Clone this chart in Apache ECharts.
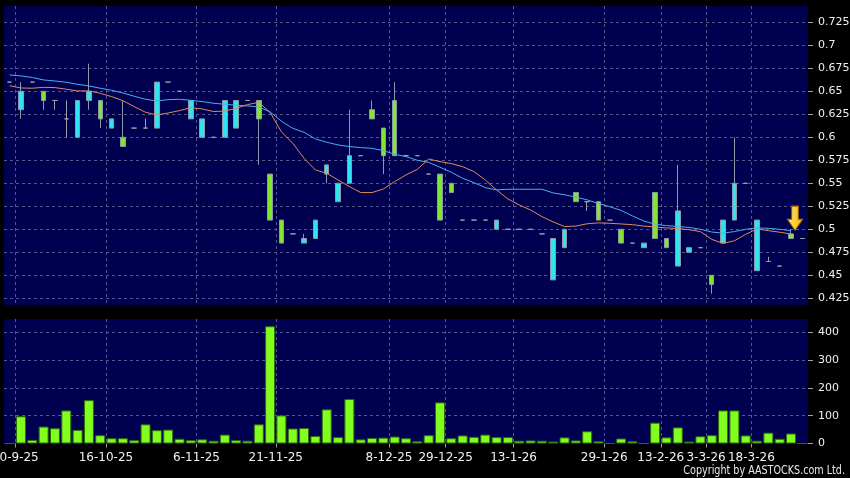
<!DOCTYPE html>
<html><head><meta charset="utf-8">
<script src="https://cdn.jsdelivr.net/npm/echarts@6/dist/echarts.min.js"></script>
<style>html,body{margin:0;padding:0;background:#000;}#c{width:850px;height:478px;}</style>
</head><body><div id="c"></div>
<script>
// slot index 0..70 (one per trading session shown); date labels sit on the left edge of their slot
const labelSlots = [1, 9, 17, 24, 34, 39, 45, 53, 58, 62, 66];
const labelTexts = ['30-9-25','16-10-25','6-11-25','21-11-25','8-12-25','29-12-25','13-1-26','29-1-26','13-2-26','3-3-26','18-3-26'];

const openP = [0.66,0.63,0.66,0.65,0.64,0.62,0.60,0.64,0.64,0.61,
  0.60,0.61,0.61,0.61,0.66,0.65,0.62,0.60,0.60,0.60,
  0.61,0.64,0.64,0.56,0.51,0.495,0.485,0.49,0.56,0.53,
  0.55,0.58,0.63,0.61,0.64,0.58,0.58,0.56,0.56,0.55,
  0.51,0.51,0.51,0.50,0.50,0.50,0.50,0.495,0.445,0.48,
  0.54,0.53,0.53,0.51,0.50,0.485,0.48,0.54,0.49,0.46,
  0.475,0.48,0.45,0.485,0.51,0.55,0.455,0.465,0.46,0.495,0.49];
const closeP = [0.66,0.65,0.66,0.64,0.64,0.62,0.64,0.65,0.62,0.62,
  0.59,0.61,0.61,0.66,0.66,0.65,0.64,0.62,0.60,0.64,
  0.64,0.64,0.62,0.51,0.485,0.495,0.49,0.51,0.57,0.55,
  0.58,0.58,0.62,0.58,0.58,0.58,0.58,0.56,0.51,0.54,
  0.51,0.51,0.51,0.51,0.50,0.50,0.50,0.495,0.49,0.50,
  0.53,0.53,0.51,0.51,0.485,0.485,0.485,0.49,0.48,0.52,
  0.48,0.48,0.44,0.51,0.55,0.55,0.51,0.465,0.46,0.49,0.49];
const lowP = [0.66,0.62,0.66,0.63,0.63,0.60,0.60,0.63,0.61,0.61,
  0.59,0.61,0.61,0.61,0.66,0.65,0.62,0.60,0.60,0.60,
  0.61,0.64,0.57,0.51,0.485,0.495,0.485,0.49,0.55,0.53,
  0.55,0.58,0.62,0.56,0.58,0.58,0.58,0.56,0.51,0.54,
  0.51,0.51,0.51,0.50,0.50,0.50,0.50,0.495,0.445,0.48,
  0.53,0.52,0.51,0.51,0.485,0.485,0.48,0.49,0.48,0.46,
  0.475,0.48,0.43,0.485,0.51,0.55,0.455,0.465,0.46,0.49,0.49];
const highP = [0.66,0.66,0.66,0.65,0.64,0.64,0.64,0.68,0.64,0.62,
  0.64,0.61,0.62,0.66,0.66,0.65,0.64,0.62,0.60,0.64,
  0.64,0.64,0.64,0.56,0.51,0.495,0.495,0.51,0.57,0.55,
  0.63,0.58,0.64,0.61,0.66,0.58,0.58,0.56,0.56,0.55,
  0.51,0.51,0.51,0.51,0.50,0.50,0.50,0.495,0.49,0.50,
  0.54,0.53,0.53,0.51,0.50,0.485,0.485,0.54,0.49,0.57,
  0.48,0.48,0.45,0.51,0.60,0.55,0.51,0.47,0.46,0.50,0.49];
const volume = [0,98,13,61,55,119,49,156,30,19,
  19,12,69,48,50,17,12,15,10,32,
  12,10,69,422,101,54,56,27,123,23,
  160,15,20,21,25,19,8,30,148,19,
  29,24,32,23,23,10,11,10,7,22,
  11,44,8,0,18,8,0,75,22,58,
  7,26,30,119,119,29,10,39,17,36,0];
const maShort = [0.656,0.6536,0.6533,0.6543,0.654,0.6522,0.6504,0.6504,0.6478,0.6442,
  0.6398,0.6333,0.6272,0.6243,0.6264,0.629,0.6322,0.6308,0.628,0.6285,
  0.6315,0.6355,0.638,0.627,0.606,0.5935,0.5772,0.5645,0.5609,0.5536,
  0.5464,0.5399,0.5399,0.5438,0.5518,0.5591,0.5652,0.5764,0.5735,0.5714,
  0.5681,0.5627,0.5536,0.5428,0.533,0.5264,0.521,0.5138,0.508,0.503,
  0.5035,0.506,0.507,0.5065,0.5058,0.505,0.5035,0.5025,0.5015,0.5008,
  0.4995,0.4975,0.489,0.4848,0.4875,0.4945,0.5004,0.4985,0.4968,0.4948,null];
const maLong = [0.6677,0.6667,0.665,0.6623,0.6612,0.6598,0.6576,0.6558,0.6533,0.6511,
  0.6482,0.6446,0.6413,0.6395,0.6409,0.6413,0.6402,0.6388,0.637,0.6359,
  0.6348,0.6341,0.633,0.6275,0.6175,0.6098,0.6054,0.5982,0.5946,0.5917,
  0.5899,0.5888,0.588,0.5855,0.5815,0.579,0.575,0.5728,0.5674,0.562,
  0.5554,0.5507,0.5453,0.5428,0.5435,0.5435,0.5435,0.5435,0.5395,0.5375,
  0.535,0.532,0.528,0.5245,0.5205,0.5145,0.509,0.5055,0.504,0.503,
  0.502,0.500,0.497,0.4958,0.4975,0.5,0.5015,0.501,0.5,0.4985,null];
const arrowSlot = 69, arrowPrice = 0.512;

// categories for data (one per slot) and for slot edges (one more than slots)
const categories = openP.map((_, i) => 's' + i);
const edges = [];
for (let i = 0; i <= openP.length; i++) {
  const j = labelSlots.indexOf(i);
  edges.push(j >= 0 ? labelTexts[j] : 'e' + i);
}
const isLabel = (i) => labelSlots.indexOf(i) >= 0;
const candleData = openP.map((o, i) => [o, closeP[i], lowP[i], highP[i]]);

const FONT = "'DejaVu Sans', sans-serif";
const gridLine = { color: '#56568f', width: 1, type: [3, 3] };
const hiddenCat = (g) => ({ type: 'category', gridIndex: g, data: categories, boundaryGap: true,
  axisLine: { show: false }, axisTick: { show: false }, axisLabel: { show: false }, splitLine: { show: false } });
const chart = echarts.init(document.getElementById('c'), null, { renderer: 'canvas' });
chart.setOption({
  animation: false,
  backgroundColor: '#000000',
  grid: [
    { left: 4, right: 42, top: 6, height: 299, show: true, backgroundColor: '#000050', borderWidth: 0,
      containLabel: false, outerBoundsMode: 'none' },
    { left: 4, right: 42, top: 319, height: 124.5, show: true, backgroundColor: '#000050', borderWidth: 0,
      containLabel: false, outerBoundsMode: 'none' }
  ],
  xAxis: [
    hiddenCat(0),
    hiddenCat(1),
    { type: 'category', gridIndex: 0, data: edges, boundaryGap: false,
      axisLine: { show: false }, axisTick: { show: false }, axisLabel: { show: false },
      splitLine: { show: true, interval: (i) => isLabel(i), lineStyle: gridLine } },
    { type: 'category', gridIndex: 1, data: edges, boundaryGap: false, position: 'bottom',
      axisLine: { show: false },
      axisTick: { show: true, interval: (i) => isLabel(i), length: 4, lineStyle: { color: '#a0a0a0' } },
      axisLabel: { show: true, interval: (i) => isLabel(i), color: '#f0f0f0', hideOverlap: false,
        fontFamily: FONT, fontSize: 12, margin: 8 },
      splitLine: { show: true, interval: (i) => isLabel(i), lineStyle: gridLine } }
  ],
  yAxis: [
    { type: 'value', gridIndex: 0, position: 'right', min: 0.4177, max: 0.7427,
      minInterval: 0.025, maxInterval: 0.025,
      axisLine: { show: false },
      axisTick: { show: true, length: 5, lineStyle: { color: '#a0a0a0' } },
      axisLabel: { color: '#f0f0f0', fontFamily: FONT, fontSize: 11, margin: 10, showMinLabel: false, showMaxLabel: false },
      splitLine: { show: true, showMinLine: false, showMaxLine: false, lineStyle: gridLine } },
    { type: 'value', gridIndex: 1, position: 'right', min: 0, max: 448,
      minInterval: 100, maxInterval: 100,
      axisLine: { show: false },
      axisTick: { show: true, length: 5, lineStyle: { color: '#a0a0a0' } },
      axisLabel: { color: '#f0f0f0', fontFamily: FONT, fontSize: 11, margin: 10, showMaxLabel: false },
      splitLine: { show: true, showMinLine: false, showMaxLine: false, lineStyle: gridLine } }
  ],
  series: [
    { type: 'candlestick', xAxisIndex: 0, yAxisIndex: 0, data: candleData, barWidth: 5,
      itemStyle: { color: '#2fe3f0', color0: '#82e62c', borderColor: '#8a9aa8', borderColor0: '#8a9aa8',
        borderColorDoji: '#a0a0a8', borderWidth: 1 },
      markPoint: {
        symbol: 'path://M4,0 L10,0 L10,12 L14,12 L7,22 L0,12 L4,12 Z',
        symbolSize: [15, 24], symbolOffset: [4, 0], label: { show: false },
        itemStyle: { color: new echarts.graphic.LinearGradient(0, 0, 1, 0, [
          { offset: 0, color: '#fff070' }, { offset: 1, color: '#f2b000' }]), borderColor: '#b87000', borderWidth: 1 },
        data: [{ coord: [arrowSlot, arrowPrice] }]
      } },
    { type: 'line', xAxisIndex: 0, yAxisIndex: 0, data: maShort, symbol: 'none',
      lineStyle: { color: '#e08a5a', width: 1 } },
    { type: 'line', xAxisIndex: 0, yAxisIndex: 0, data: maLong, symbol: 'none',
      lineStyle: { color: '#4ab0ea', width: 1 } },
    { type: 'bar', xAxisIndex: 1, yAxisIndex: 1, data: volume, barWidth: 10,
      itemStyle: { color: '#80ff1e', borderColor: '#2f6a08', borderWidth: 1 } }
  ],
  graphic: [
    { type: 'text', x: 845, y: 471, scaleX: 0.8, style: { text: 'Copyright by AASTOCKS.com Ltd.', fill: '#e8e8e8',
      align: 'right', verticalAlign: 'middle', font: "12px 'DejaVu Sans', sans-serif" } }
  ]
});
</script></body></html>
